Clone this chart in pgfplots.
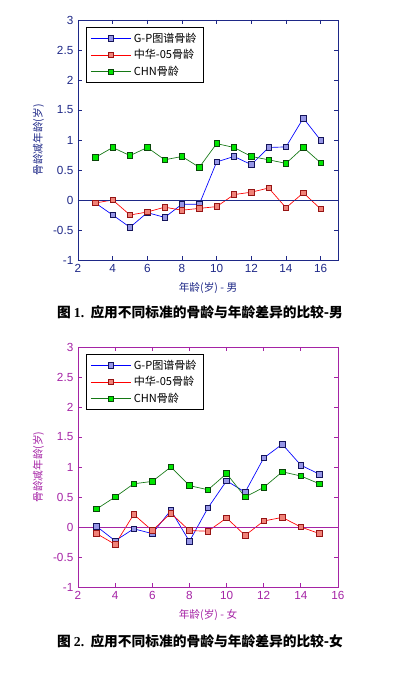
\documentclass[border=0pt]{standalone}
\usepackage{pgfplots}
\pgfplotsset{compat=1.18}
\usepackage{fontspec}
\setmainfont{Liberation Sans}
\newfontfamily\cjk{Noto Sans CJK SC}
\newfontfamily\serifb{Liberation Serif}
\definecolor{topc}{RGB}{30,40,135}
\definecolor{botc}{RGB}{165,35,165}
\definecolor{gpline}{RGB}{0,0,255}
\definecolor{gpfill}{RGB}{150,150,230}
\definecolor{gpedge}{RGB}{20,20,90}
\definecolor{zhline}{RGB}{255,0,0}
\definecolor{zhfill}{RGB}{240,130,120}
\definecolor{zhedge}{RGB}{150,20,20}
\definecolor{cnline}{RGB}{20,120,20}
\definecolor{cnfill}{RGB}{0,230,0}
\definecolor{cnedge}{RGB}{10,70,10}

\pgfplotstableread{
x gp zh cn
3 -0.05 -0.05 0.71
4 -0.25 0.00 0.875
5 -0.455 -0.25 0.74
6 -0.21 -0.20 0.875
7 -0.29 -0.12 0.67
8 -0.07 -0.17 0.725
9 -0.07 -0.14 0.545
10 0.635 -0.11 0.94
11 0.725 0.09 0.875
12 0.59 0.13 0.725
13 0.875 0.20 0.67
14 0.885 -0.13 0.61
15 1.365 0.12 0.875
16 0.995 -0.15 0.62
}\male

\pgfplotstableread{
x gp zh cn
3 0.01 -0.11 0.30
4 -0.23 -0.29 0.50
5 -0.03 0.21 0.72
6 -0.11 -0.06 0.76
7 0.28 0.23 1.00
8 -0.24 -0.06 0.69
9 0.32 -0.07 0.62
10 0.77 0.15 0.89
11 0.58 -0.14 0.50
12 1.15 0.10 0.66
13 1.38 0.16 0.92
14 1.03 0.00 0.85
15 0.88 -0.11 0.72
}\female

\pgfplotsset{
  mystyle/.style={
    scale only axis, width=195pt, height=180pt,
    xmin=2, ymin=-1, ymax=3,
    ytick={-1,-0.5,0,0.5,1,1.5,2,2.5,3},
    tick align=inside,
    major tick length=3pt,
    axis line style={line width=0.6pt, #1},
    every tick/.style={line width=0.6pt, #1},
    tick label style={font=\fontsize{8.8}{10}\selectfont, color=#1},
    /pgf/number format/assume math mode=true,
    yticklabel style={/pgf/number format/fixed},
    label style={font=\cjk\fontsize{8}{10}\selectfont, color=#1},
    legend style={at={(0.031,0.971)}, anchor=north west, draw=black, line width=0.6pt,
      font=\cjk\fontsize{8.3}{9.5}\selectfont, row sep=0pt, inner xsep=3pt, inner ysep=2pt},
    legend cell align=left,
    legend image code/.code={\draw[mark repeat=2,mark phase=2] plot coordinates {(0pt,0pt) (15pt,0pt) (30pt,0pt)};},
    mark size=2.1pt,
  },
  gp/.style={gpline, line width=0.5pt, mark=square*, mark options={fill=gpfill, draw=gpedge, line width=0.5pt}},
  zh/.style={zhline, line width=0.5pt, mark=square*, mark options={fill=zhfill, draw=zhedge, line width=0.5pt}},
  cn/.style={cnline, line width=0.5pt, mark=square*, mark options={fill=cnfill, draw=cnedge, line width=0.5pt}},
}

\begin{document}
\begin{tikzpicture}
\path[use as bounding box] (0,0) rectangle (296.25pt,506.25pt);
\begin{axis}[mystyle=topc, at={(58.5pt,311.25pt)}, anchor=south west,
  xmax=17, xtick={2,4,...,16},
  xlabel={年龄(岁) - 男}, ylabel={骨龄减年龄(岁)}]
\addplot[gp] table[x=x,y=gp]{\male};
\addlegendentry{G-P图谱骨龄}
\addplot[zh] table[x=x,y=zh]{\male};
\addlegendentry{中华-05骨龄}
\addplot[cn] table[x=x,y=cn]{\male};
\addlegendentry{CHN骨龄}
\addplot[topc, line width=0.6pt, forget plot] coordinates {(2,0) (17,0)};
\end{axis}
\node[font=\cjk\bfseries\fontsize{10.3}{12}\selectfont] at (150pt,272pt) {图 {\serifb\bfseries 1.}\ \ 应用不同标准的骨龄与年龄差异的比较-男};

\begin{axis}[mystyle=botc, at={(58.5pt,66pt)}, anchor=south west,
  xmax=16, xtick={2,4,...,16},
  xlabel={年龄(岁) - 女}, ylabel={骨龄减年龄(岁)}]
\addplot[gp] table[x=x,y=gp]{\female};
\addlegendentry{G-P图谱骨龄}
\addplot[zh] table[x=x,y=zh]{\female};
\addlegendentry{中华-05骨龄}
\addplot[cn] table[x=x,y=cn]{\female};
\addlegendentry{CHN骨龄}
\addplot[botc, line width=0.6pt, forget plot] coordinates {(2,0) (16,0)};
\end{axis}
\node[font=\cjk\bfseries\fontsize{10.3}{12}\selectfont] at (150pt,25.5pt) {图 {\serifb\bfseries 2.}\ \ 应用不同标准的骨龄与年龄差异的比较-女};
\end{tikzpicture}
\end{document}
